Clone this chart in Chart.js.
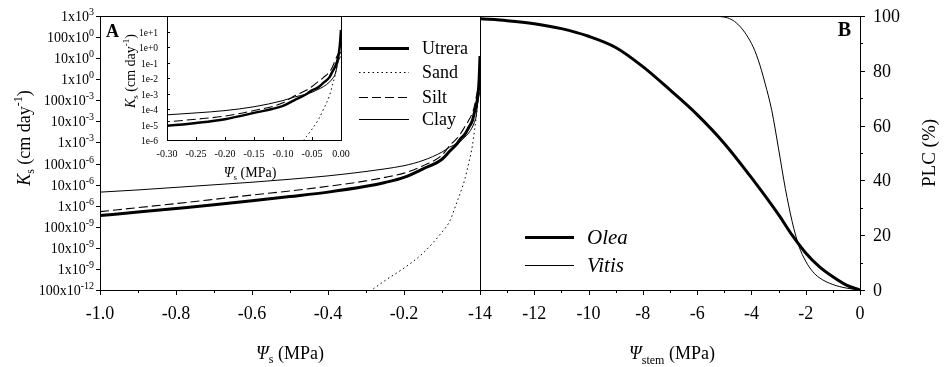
<!DOCTYPE html>
<html>
<head>
<meta charset="utf-8">
<script src="https://cdn.jsdelivr.net/npm/chart.js@4.4.0/dist/chart.umd.min.js"></script>
<style>
  html, body { margin: 0; padding: 0; background: #fff; }
  #wrap { position: relative; width: 944px; height: 367px; overflow: hidden; }
  canvas { position: absolute; top: 0; }
</style>
</head>
<body>
<div id="wrap">
  <canvas id="chartA" width="490" height="367" style="left:0px"></canvas>
  <canvas id="chartB" width="504" height="367" style="left:440px"></canvas>
  <canvas id="inset" width="240" height="185" style="left:120px"></canvas>
</div>
<script>
// panel A: soil hydraulic conductivity vs soil water potential
const psiSoil  = [-1.0, -0.9, -0.8, -0.7, -0.6, -0.5, -0.4, -0.3, -0.25, -0.2, -0.15, -0.1, -0.08, -0.06, -0.05, -0.04, -0.03, -0.02, -0.015, -0.01, -0.005, -0.002, 0];
const ksUtrera = [3.4e-7, 5.0e-7, 7.4e-7, 1.1e-6, 1.7e-6, 2.7e-6, 4.4e-6, 8.3e-6, 1.26e-5, 2.2e-5, 5.6e-5, 1.6e-4, 3.8e-4, 8.9e-4, 1.6e-3, 2.4e-3, 5.0e-3, 1.1e-2, 2.5e-2, 5.6e-2, 0.2, 1.26, 12.6];
const ksSand   = [null, null, null, null, null, null, null, 6.3e-11, 2.8e-10, 1.1e-9, 5.6e-9, 5.6e-8, 1.8e-7, 1.6e-6, 5.0e-6, 1.8e-5, 1.0e-4, 7.1e-4, 3.2e-3, 1.6e-2, 0.13, 0.35, 0.5];
const ksSilt   = [5.2e-7, 8.1e-7, 1.26e-6, 2.0e-6, 3.2e-6, 5.0e-6, 8.3e-6, 1.5e-5, 2.2e-5, 3.5e-5, 7.9e-5, 2.5e-4, 7.1e-4, 1.6e-3, 2.8e-3, 5.6e-3, 1.1e-2, 2.5e-2, 5.0e-2, 0.14, 0.35, 0.42, 0.45];
const ksClay   = [4.4e-6, 5.6e-6, 7.4e-6, 9.8e-6, 1.3e-5, 1.8e-5, 2.6e-5, 4.2e-5, 5.6e-5, 7.9e-5, 1.4e-4, 3.5e-4, 6.0e-4, 8.9e-4, 1.2e-3, 1.8e-3, 2.8e-3, 5.4e-3, 8.9e-3, 1.8e-2, 0.11, 0.2, 0.25];

// panel B: percent loss of conductivity vs stem water potential
const psiOlea  = [-14, -13, -12, -11, -10, -9, -8, -7, -6, -5, -4, -3, -2.5, -2, -1.5, -1, -0.5, 0];
const plcOlea  = [99, 98.3, 97.2, 95.4, 92.6, 88.5, 81.5, 73, 64, 53.5, 41, 27.5, 20, 13.5, 8.5, 4.8, 1.8, 0];
const psiVitis = [-7, -6, -5.5, -5, -4.5, -4, -3.75, -3.5, -3.25, -3, -2.75, -2.5, -2.25, -2, -1.75, -1.5, -1, -0.5, 0];
const plcVitis = [100, 100, 99.9, 99.6, 97, 90, 84, 75.5, 65.5, 51.5, 37, 25, 16, 10.5, 6.8, 4.5, 2, 0.7, 0];

// ticks
const ksTickValues = [1e3, 1e2, 1e1, 1e0, 1e-1, 1e-2, 1e-3, 1e-4, 1e-5, 1e-6, 1e-7, 1e-8, 1e-9, 1e-10];
const ksTickLabels = ['1x10^3', '100x10^0', '10x10^0', '1x10^0', '100x10^-3', '10x10^-3', '1x10^-3', '100x10^-6', '10x10^-6', '1x10^-6', '100x10^-9', '10x10^-9', '1x10^-9', '100x10^-12'];
const soilMajor = [-1.0, -0.8, -0.6, -0.4, -0.2];
const soilLabels = ['-1.0', '-0.8', '-0.6', '-0.4', '-0.2'];
const soilMinor = [-0.9, -0.7, -0.5, -0.3, -0.1];
const stemMajor = [-14, -12, -10, -8, -6, -4, -2, 0];
const stemLabels = ['-14', '-12', '-10', '-8', '-6', '-4', '-2', '0'];
const stemMinor = [-13, -11, -9, -7, -5, -3, -1];
const plcMajor = [0, 20, 40, 60, 80, 100];
const plcLabels = ['0', '20', '40', '60', '80', '100'];
const plcMinor = [10, 30, 50, 70, 90];
const insetXTicks = [-0.30, -0.25, -0.20, -0.15, -0.10, -0.05, 0];
const insetXLabels = ['-0.30', '-0.25', '-0.20', '-0.15', '-0.10', '-0.05', '0.00'];
const insetYTicks = [1e1, 1e0, 1e-1, 1e-2, 1e-3, 1e-4, 1e-5, 1e-6];
const insetYLabels = ['1e+1', '1e+0', '1e-1', '1e-2', '1e-3', '1e-4', '1e-5', '1e-6'];

const FAMILY = '"Liberation Serif", "Times New Roman", serif';
function font(size, style) { return (style ? style + ' ' : '') + size + 'px ' + FAMILY; }

function line(ctx, x1, y1, x2, y2) {
  ctx.beginPath(); ctx.moveTo(x1, y1); ctx.lineTo(x2, y2); ctx.stroke();
}

// parts: [text, size, style, dy]
function rich(ctx, parts, x, y, align) {
  let w = 0;
  parts.forEach(p => { ctx.font = font(p[1], p[2]); w += ctx.measureText(p[0]).width; });
  let cx = align === 'right' ? x - w : (align === 'left' ? x : x - w / 2);
  ctx.textAlign = 'left';
  ctx.textBaseline = 'alphabetic';
  parts.forEach(p => {
    ctx.font = font(p[1], p[2]);
    ctx.fillText(p[0], cx, y + (p[3] || 0));
    cx += ctx.measureText(p[0]).width;
  });
}

function pts(xs, ys) {
  const out = [];
  xs.forEach((x, i) => { if (ys[i] !== null) out.push({ x: x, y: ys[i] }); });
  return out;
}

function soilSets(thick) {
  return [
    { label: 'Utrera', data: pts(psiSoil, ksUtrera), borderColor: '#000', borderWidth: thick, borderDash: [] },
    { label: 'Sand', data: pts(psiSoil, ksSand), borderColor: '#000', borderWidth: 1, borderDash: [1.5, 3] },
    { label: 'Silt', data: pts(psiSoil, ksSilt), borderColor: '#000', borderWidth: 1.1, borderDash: [9, 4] },
    { label: 'Clay', data: pts(psiSoil, ksClay), borderColor: '#000', borderWidth: 1, borderDash: [] }
  ];
}

const common = {
  responsive: false,
  animation: false,
  devicePixelRatio: 1,
  plugins: { legend: { display: false }, tooltip: { enabled: false } },
  elements: { point: { radius: 0 }, line: { cubicInterpolationMode: 'monotone', fill: false } },
  datasets: { line: { clip: 0 } }
};

const axesA = {
  id: 'axesA',
  afterDraw(chart) {
    const ctx = chart.ctx;
    const { left, right, top, bottom } = chart.chartArea;
    const xs = chart.scales.x, ys = chart.scales.y;
    ctx.save();
    ctx.strokeStyle = '#000'; ctx.fillStyle = '#000'; ctx.lineWidth = 1;
    ctx.strokeRect(left + 0.5, top + 0.5, right - left, bottom - top);

    soilMajor.forEach(v => { const x = Math.round(xs.getPixelForValue(v)) + 0.5; line(ctx, x, bottom, x, bottom + 5); });
    soilMinor.forEach(v => { const x = Math.round(xs.getPixelForValue(v)) + 0.5; line(ctx, x, bottom, x, bottom + 3); });
    ctx.font = font(18); ctx.textAlign = 'center'; ctx.textBaseline = 'alphabetic';
    soilLabels.forEach((t, i) => ctx.fillText(t, xs.getPixelForValue(soilMajor[i]), 319));

    ksTickValues.forEach((v, i) => {
      const y = Math.round(ys.getPixelForValue(v)) + 0.5;
      line(ctx, left - 4, y, left, y);
      const parts = ksTickLabels[i].split('^');
      rich(ctx, [[parts[0], 14, '', 0], [parts[1], 10, '', -6]], 94, y + 4.5, 'right');
    });

    // legend
    const rows = [48, 72, 97, 119];
    chart.data.datasets.forEach((ds, i) => {
      ctx.save();
      ctx.lineWidth = ds.borderWidth;
      ctx.setLineDash(ds.borderDash);
      line(ctx, 359, rows[i] + 0.5, 409, rows[i] + 0.5);
      ctx.restore();
      ctx.font = font(18); ctx.textAlign = 'left';
      ctx.fillText(ds.label, 422, rows[i] + 6);
    });

    ctx.font = font(18, 'bold'); ctx.textAlign = 'left';
    ctx.fillText('A', 106, 37);

    rich(ctx, [['\u03A8', 18, 'italic', 0], ['s', 12, '', 4], [' (MPa)', 18, '', 0]], 290, 359, 'center');

    ctx.save();
    ctx.translate(30, 138);
    ctx.rotate(-Math.PI / 2);
    rich(ctx, [['K', 18, 'italic', 0], ['s', 12, '', 4], [' (cm day', 18, '', 0], ['-1', 12, '', -8], [')', 18, '', 0]], 0, 0, 'center');
    ctx.restore();
    ctx.restore();
  }
};

new Chart(document.getElementById('chartA'), {
  type: 'line',
  data: { datasets: soilSets(3) },
  options: Object.assign({}, common, {
    layout: { padding: { left: 100, right: 10, top: 16, bottom: 77 } },
    scales: {
      x: { type: 'linear', min: -1, max: 0, display: false },
      y: { type: 'logarithmic', min: 1e-10, max: 1e3, display: false }
    }
  }),
  plugins: [axesA]
});

const axesInset = {
  id: 'axesInset',
  beforeDatasetsDraw(chart) {
    const ctx = chart.ctx;
    const { left, right, top, bottom } = chart.chartArea;
    ctx.save(); ctx.fillStyle = '#fff'; ctx.fillRect(left, top, right - left, bottom - top); ctx.restore();
  },
  afterDraw(chart) {
    const ctx = chart.ctx;
    const { left, right, top, bottom } = chart.chartArea;
    const xs = chart.scales.x, ys = chart.scales.y;
    ctx.save();
    ctx.strokeStyle = '#000'; ctx.fillStyle = '#000'; ctx.lineWidth = 1;
    ctx.strokeRect(left + 0.5, top + 0.5, right - left, bottom - top);

    ctx.font = font(10); ctx.textAlign = 'center'; ctx.textBaseline = 'alphabetic';
    insetXTicks.forEach((v, i) => {
      const x = Math.round(xs.getPixelForValue(v)) + 0.5;
      line(ctx, x, bottom, x, bottom - 3);
      ctx.fillText(insetXLabels[i], xs.getPixelForValue(v), 157);
    });
    ctx.font = font(9.5); ctx.textAlign = 'right';
    insetYTicks.forEach((v, i) => {
      const y = Math.round(ys.getPixelForValue(v)) + 0.5;
      line(ctx, left, y, left + 3, y);
      ctx.fillText(insetYLabels[i], 38, y + 3.5);
    });

    rich(ctx, [['\u03A8', 14, 'italic', 0], ['s', 9, '', 3], [' (MPa)', 14, '', 0]], 130, 177, 'center');

    ctx.save();
    ctx.translate(15, 71);
    ctx.rotate(-Math.PI / 2);
    rich(ctx, [['K', 14, 'italic', 0], ['s', 9, '', 3], [' (cm day', 14, '', 0], ['-1', 9, '', -6], [')', 14, '', 0]], 0, 0, 'center');
    ctx.restore();
    ctx.restore();
  }
};

new Chart(document.getElementById('inset'), {
  type: 'line',
  data: { datasets: soilSets(2.5) },
  options: Object.assign({}, common, {
    layout: { padding: { left: 47, right: 19, top: 16, bottom: 45 } },
    scales: {
      x: { type: 'linear', min: -0.3, max: 0, display: false },
      y: { type: 'logarithmic', min: 1e-6, max: 1e2, display: false }
    }
  }),
  plugins: [axesInset]
});

const axesB = {
  id: 'axesB',
  afterDraw(chart) {
    const ctx = chart.ctx;
    const { left, right, top, bottom } = chart.chartArea;
    const xs = chart.scales.x, ys = chart.scales.y;
    ctx.save();
    ctx.strokeStyle = '#000'; ctx.fillStyle = '#000'; ctx.lineWidth = 1;
    ctx.strokeRect(left + 0.5, top + 0.5, right - left, bottom - top);

    stemMajor.forEach(v => { const x = Math.round(xs.getPixelForValue(v)) + 0.5; line(ctx, x, bottom, x, bottom + 5); });
    stemMinor.forEach(v => { const x = Math.round(xs.getPixelForValue(v)) + 0.5; line(ctx, x, bottom, x, bottom + 3); });
    ctx.font = font(18); ctx.textAlign = 'center'; ctx.textBaseline = 'alphabetic';
    stemLabels.forEach((t, i) => ctx.fillText(t, xs.getPixelForValue(stemMajor[i]), 319));

    plcMajor.forEach(v => { const y = Math.round(ys.getPixelForValue(v)) + 0.5; line(ctx, right, y, right + 5, y); });
    plcMinor.forEach(v => { const y = Math.round(ys.getPixelForValue(v)) + 0.5; line(ctx, right, y, right + 3, y); });
    ctx.textAlign = 'left';
    plcLabels.forEach((t, i) => ctx.fillText(t, right + 13, ys.getPixelForValue(plcMajor[i]) + 6));

    // legend
    const rows = [237, 265];
    chart.data.datasets.forEach((ds, i) => {
      ctx.save();
      ctx.lineWidth = ds.borderWidth;
      line(ctx, 85, rows[i] + 0.5, 134, rows[i] + 0.5);
      ctx.restore();
      ctx.font = font(21, 'italic'); ctx.textAlign = 'left';
      ctx.fillText(ds.label, 147, rows[i] + 7);
    });

    ctx.font = font(20, 'bold'); ctx.textAlign = 'right';
    ctx.fillText('B', 411, 36);

    rich(ctx, [['\u03A8', 18, 'italic', 0], ['stem', 12, '', 5], [' (MPa)', 18, '', 0]], 232, 359, 'center');

    ctx.save();
    ctx.translate(495, 153);
    ctx.rotate(-Math.PI / 2);
    ctx.font = font(19); ctx.textAlign = 'center'; ctx.textBaseline = 'alphabetic';
    ctx.fillText('PLC (%)', 0, 0);
    ctx.restore();
    ctx.restore();
  }
};

new Chart(document.getElementById('chartB'), {
  type: 'line',
  data: {
    datasets: [
      { label: 'Olea', data: pts(psiOlea, plcOlea), borderColor: '#000', borderWidth: 3 },
      { label: 'Vitis', data: pts(psiVitis, plcVitis), borderColor: '#000', borderWidth: 1 }
    ]
  },
  options: Object.assign({}, common, {
    layout: { padding: { left: 40, right: 84, top: 16, bottom: 77 } },
    scales: {
      x: { type: 'linear', min: -14, max: 0, display: false },
      y: { type: 'linear', min: 0, max: 100, display: false }
    }
  }),
  plugins: [axesB]
});
</script>
</body>
</html>
